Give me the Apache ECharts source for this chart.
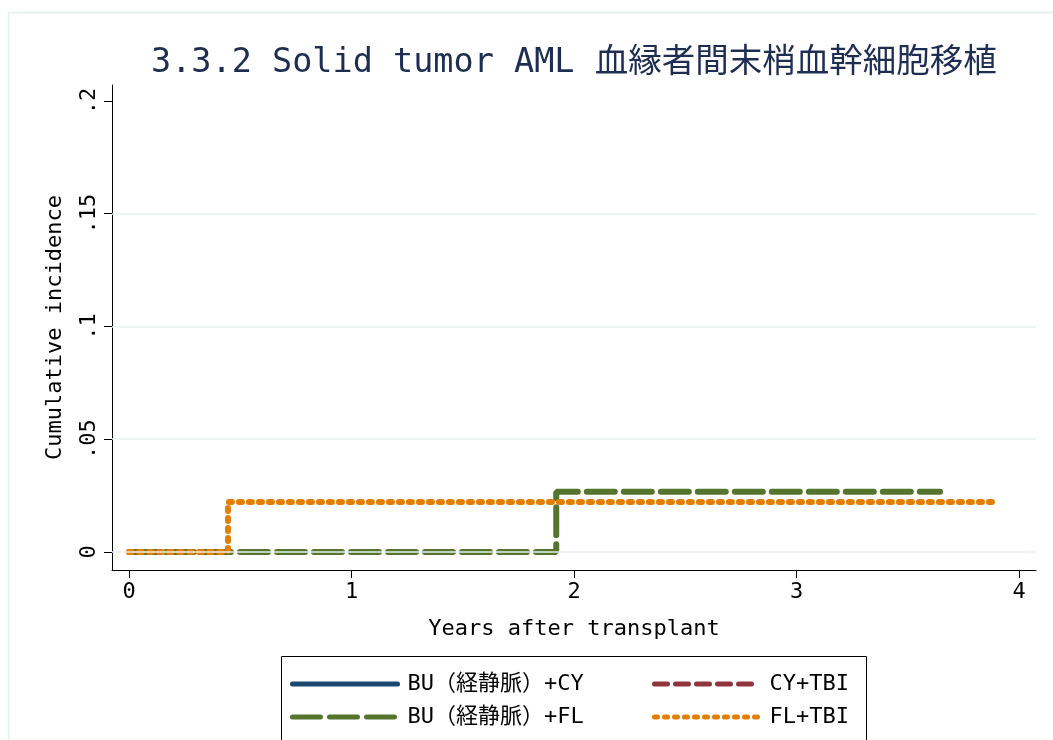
<!DOCTYPE html>
<html lang="ja">
<head>
    <meta charset="UTF-8">
    <title>3.3.2 Solid tumor AML</title>
    <script src="https://cdn.jsdelivr.net/npm/echarts@6/dist/echarts.min.js"></script>
    <style>
        html, body { margin: 0; padding: 0; background: #fff; }
        #chart { width: 1053px; height: 740px; }
    </style>
</head>
<body>
<div id="chart"></div>
<script type="text/javascript">
    // step points: [years, cumulative incidence]
    let bu_iv_cy = [];
    let bu_iv_fl = [[0, 0], [1.92, 0.0267], [3.645, 0.0267]];
    let cy_tbi = [];
    let fl_tbi = [[0, 0], [0.445, 0.0222], [3.9, 0.0222]];

    let x_ticks = [0, 1, 2, 3, 4];
    let y_ticks = [0, 0.05, 0.1, 0.15, 0.2];
    let grid_values = [0, 0.05, 0.1, 0.15];

    let font = "'DejaVu Sans Mono', 'Noto Sans CJK JP', monospace";

    let chart = echarts.init(document.getElementById('chart'));

    function fmt_y(v) {
        if (v === 0) return '0';
        return String(v).replace(/^0/, '');
    }

    let legend_base = {
        orient: 'vertical',
        top: 673,
        itemWidth: 105,
        itemHeight: 22,
        itemGap: 11,
        padding: 0,
        lineStyle: { width: 5, cap: 'round' },
        itemStyle: { color: 'rgba(0,0,0,0)', borderWidth: 0, opacity: 0 },
        textStyle: { fontSize: 22, color: '#000', fontFamily: font, padding: [0, 0, 0, 5] }
    };

    chart.setOption({
        animation: false,
        textStyle: { fontFamily: font },
        title: {
            text: '3.3.2 Solid tumor AML 血縁者間末梢血幹細胞移植',
            left: 146,
            top: 42,
            textStyle: { fontSize: 33.5, fontWeight: 'normal', color: '#1e2d52', fontFamily: font }
        },
        graphic: [{
            type: 'rect',
            shape: { x: 8.5, y: 12.5, width: 1100, height: 800 },
            style: { fill: 'none', stroke: '#e4eeef', lineWidth: 1.5 },
            silent: true
        }, {
            type: 'rect',
            shape: { x: 281.5, y: 656.5, width: 585, height: 120 },
            style: { fill: 'none', stroke: '#000', lineWidth: 1 },
            silent: true
        }],
        grid: { left: 112, right: 17, top: 85, bottom: 170 },
        legend: [
            Object.assign({}, legend_base, { left: 290, data: ['BU（経静脈）+CY', 'BU（経静脈）+FL'] }),
            Object.assign({}, legend_base, { left: 652, data: ['CY+TBI', 'FL+TBI'] })
        ],
        xAxis: {
            type: 'value',
            min: -0.0764,
            max: 4.076,
            name: 'Years after transplant',
            nameLocation: 'middle',
            nameGap: 48,
            nameTextStyle: { fontSize: 22, color: '#000', fontFamily: font },
            axisLine: { show: true, onZero: false, lineStyle: { color: '#000', width: 1 } },
            axisTick: { show: true, length: 8, customValues: x_ticks, lineStyle: { color: '#000' } },
            axisLabel: { customValues: x_ticks, fontSize: 22, color: '#000', margin: 11, fontFamily: font },
            splitLine: { show: false }
        },
        yAxis: {
            type: 'value',
            min: -0.008,
            max: 0.2071,
            name: 'Cumulative incidence',
            nameLocation: 'middle',
            nameGap: 46,
            nameTextStyle: { fontSize: 22, color: '#000', fontFamily: font },
            axisLine: { show: true, onZero: false, lineStyle: { color: '#000', width: 1 } },
            axisTick: { show: true, length: 8, customValues: y_ticks, lineStyle: { color: '#000' } },
            axisLabel: {
                customValues: y_ticks, rotate: 90, fontSize: 22, color: '#000', margin: 12,
                fontFamily: font, formatter: fmt_y
            },
            splitLine: { show: false }
        },
        series: [
            {
                name: 'BU（経静脈）+CY',
                type: 'line',
                step: 'end',
                data: bu_iv_cy,
                symbol: 'none',
                color: '#1a476f',
                lineStyle: { width: 6, color: '#1a476f', cap: 'round' },
                markLine: {
                    silent: true,
                    symbol: ['none', 'none'],
                    label: { show: false },
                    lineStyle: { color: '#e8f0f1', type: 'solid', width: 1.5 },
                    data: grid_values.map(v => ({ yAxis: v }))
                }
            },
            {
                name: 'BU（経静脈）+FL',
                type: 'line',
                step: 'end',
                data: bu_iv_fl,
                symbol: 'none',
                color: '#55752f',
                lineStyle: { width: 6, color: '#55752f', type: [28, 9], cap: 'round' }
            },
            {
                name: 'CY+TBI',
                type: 'line',
                step: 'end',
                data: cy_tbi,
                symbol: 'none',
                color: '#90353b',
                lineStyle: { width: 6, color: '#90353b', type: [13, 8], cap: 'round' }
            },
            {
                name: 'FL+TBI',
                type: 'line',
                step: 'end',
                data: fl_tbi,
                symbol: 'none',
                color: '#e37e00',
                lineStyle: { width: 6, color: '#e37e00', type: [3, 7], cap: 'round' }
            }
        ]
    });
</script>
</body>
</html>
